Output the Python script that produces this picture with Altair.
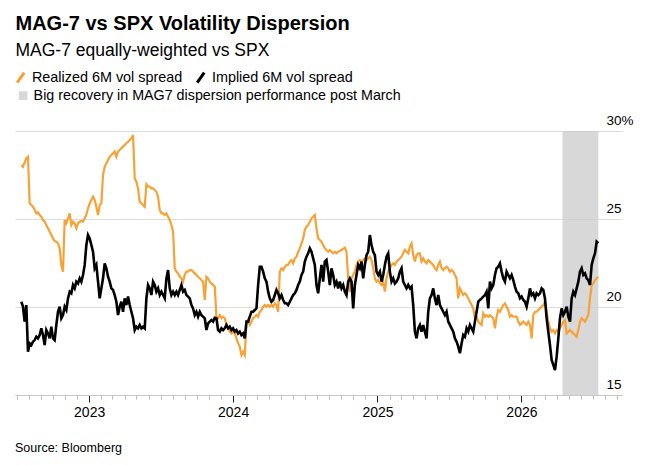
import altair as alt
import pandas as pd

FONT = "Liberation Sans"
TITLE = "MAG-7 vs SPX Volatility Dispersion"
SUBTITLE = "MAG-7 equally-weighted vs SPX"
SOURCE = "Source: Bloomberg"
SERIES = ["Realized 6M vol spread", "Implied 6M vol spread"]
SHADE_LABEL = "Big recovery in MAG7 dispersion performance post March"
SHADE_START = "2026-04-15"
SHADE_END = "2026-07-15"
START = "2022-07-13"
END = "2026-07-15"
Y_TICKS = [15, 20, 25, 30]

ORANGE = "#f8a134"
BLACK = "#000000"
SHADE = "#cbcbcb"

REALIZED = [
    28.07, 27.97, 28.22, 28.45, 28.54, 25.89, 25.80, 25.70, 25.51, 25.32,
    25.38, 25.23, 25.13, 24.94, 24.85, 24.66, 24.47, 24.28, 24.09, 23.90,
    23.75, 23.71, 23.62, 23.33, 22.39, 22.01, 24.94, 24.75, 25.04, 25.32,
    24.66, 24.85, 24.75, 24.47, 24.75, 24.85, 24.89, 24.85, 25.04, 25.23,
    25.61, 25.89, 26.08, 26.27, 26.08, 25.70, 25.23, 25.80, 25.89, 27.50,
    27.97, 28.16, 28.35, 28.54, 28.64, 28.73,
    28.83, 28.54, 28.83, 28.92, 29.02, 29.11, 29.20, 29.30, 29.39, 29.49,
    29.58, 29.77, 27.31, 27.12, 26.74, 25.98, 25.89, 25.80, 25.70, 26.97,
    26.84, 26.84, 26.74, 26.74, 26.65, 26.55, 26.27, 25.51, 25.32, 25.32,
    25.23, 25.32, 25.13, 24.94, 24.66, 24.28, 22.20, 22.01, 21.91, 21.72,
    21.63, 21.44, 21.82, 22.01, 22.01, 22.10, 22.10, 22.01, 21.91, 21.82,
    21.72, 21.63, 21.53, 21.44, 20.40, 21.72, 21.63, 21.44, 21.34, 21.25,
    21.16, 19.45, 19.36, 19.54, 19.36, 19.45, 19.36, 18.98, 18.79, 18.60,
    18.50, 18.60, 18.50, 18.22, 17.93, 17.75, 17.27, 17.46, 17.27, 19.07,
    19.26, 18.98, 19.17, 19.36, 19.45, 19.54, 19.45, 19.73, 19.83, 20.02,
    20.11, 20.02, 20.11, 20.02, 20.11, 20.02, 20.21, 20.11, 19.73, 22.01,
    22.20, 22.10, 22.29, 22.39, 22.39, 22.58, 22.67, 22.48, 22.76, 22.86,
    23.14, 23.33, 23.62, 23.90, 24.38, 24.56, 24.66, 24.85, 25.04, 25.13,
    25.23, 24.47, 23.90, 23.81, 23.71, 23.52, 23.33, 23.24, 23.14, 23.24,
    23.14, 23.05, 23.14, 23.05, 23.14, 23.18, 23.24, 23.30, 23.37, 23.14,
    21.63, 20.87, 21.63, 21.82, 22.01, 22.39, 22.58, 22.67, 22.58, 22.67,
    22.76, 22.67, 22.76, 22.86, 22.67, 22.20, 21.63, 21.44, 21.53, 21.34,
    21.25, 21.44, 20.87, 21.63, 22.01, 22.20, 22.39, 22.48, 22.39, 22.58,
    22.67, 22.76, 22.86, 23.05, 23.24, 23.14, 23.05, 23.43, 23.62, 22.95,
    22.58, 22.95, 23.05, 23.05, 22.58, 22.76, 22.58, 22.48, 22.67, 22.58,
    22.48, 22.39, 22.20, 22.10, 22.39, 22.58, 22.20, 22.10, 22.20, 22.29,
    22.20, 22.01, 22.10, 22.01, 21.82, 21.63, 20.49, 21.06, 20.87, 20.68,
    20.78, 20.68, 20.49, 20.30, 20.11, 19.92, 19.36, 19.45, 19.17, 19.07,
    18.98, 19.64, 19.45, 19.54, 19.45, 19.54, 19.45, 19.36, 18.79, 19.45,
    19.83, 19.73, 19.92, 20.11, 20.21, 20.02, 19.83, 19.45, 19.54, 19.45,
    19.45, 19.45, 19.17, 18.98, 19.07, 19.17, 19.07, 18.98, 19.17, 18.98,
    18.22, 19.54, 19.73, 19.73, 19.83, 19.92, 20.02, 20.11, 20.30, 19.73,
    19.17, 18.79, 18.60, 18.69, 18.50, 18.69, 18.60, 18.79, 18.98, 19.17,
    19.26, 18.50, 18.60, 18.69, 18.60, 18.50, 18.41, 18.31, 18.69, 19.17,
    19.36, 19.26, 19.17, 19.36, 19.54, 20.49, 21.25, 21.34, 21.53, 21.63,
    21.72,
]

IMPLIED = [
    20.30, 20.02, 19.17, 20.11, 17.46, 17.93, 17.84, 18.03, 18.12, 18.31,
    18.22, 18.41, 18.79, 18.41, 17.84, 18.69, 18.50, 18.22, 18.88, 18.22,
    18.12, 18.98, 19.73, 20.02, 19.36, 19.54, 20.02, 19.83, 20.49, 20.87,
    20.78, 21.25, 21.06, 21.44, 21.34, 21.63, 21.44, 21.82, 22.39, 23.52,
    24.09, 23.90, 23.52, 23.14, 22.20, 22.39, 21.44, 20.49, 21.06, 21.63,
    22.48, 22.20, 21.72, 21.44, 21.06, 20.97,
    20.68, 20.30, 19.54, 20.02, 20.30, 19.73, 20.49, 20.11, 20.59, 20.11,
    19.73, 19.36, 18.69, 18.88, 18.79, 18.98, 18.79, 18.88, 18.79, 20.49,
    21.25, 21.06, 20.68, 21.44, 21.25, 20.87, 21.06, 20.68, 20.87, 20.68,
    20.49, 21.63, 22.10, 21.06, 20.68, 20.87, 20.68, 20.87, 20.68, 20.97,
    21.25, 20.87, 20.97, 20.68, 20.59, 20.49, 20.11, 19.92, 19.54, 19.73,
    19.45, 19.73, 19.54, 19.45, 19.36, 18.69, 19.07, 19.17, 19.26, 19.17,
    19.39, 19.36, 18.69, 18.60, 18.79, 18.69, 18.79, 18.98, 18.79, 18.88,
    18.69, 18.79, 18.60, 18.69, 18.50, 18.60, 18.41, 18.50, 18.22, 19.17,
    19.17, 19.45, 19.73, 19.73, 19.83, 19.92, 21.25, 22.29, 22.29, 22.01,
    21.63, 21.44, 20.87, 20.49, 20.30, 20.40, 20.68, 20.97, 20.78, 20.49,
    20.68, 20.40, 20.21, 20.21, 20.11, 20.30, 20.49, 20.68, 20.78, 20.97,
    21.25, 21.44, 21.82, 22.01, 22.58, 22.86, 23.05, 23.33, 23.14, 22.76,
    22.39, 21.25, 20.78, 21.63, 22.39, 21.44, 22.58, 22.67, 22.01, 21.25,
    22.20, 21.82, 21.25, 21.44, 21.06, 21.44, 21.06, 21.25, 20.87, 20.68,
    21.44, 21.63, 21.44, 19.92, 21.25, 21.82, 22.39, 22.20, 22.58, 21.63,
    22.39, 22.95, 23.14, 24.09, 23.52, 23.14, 22.95, 22.01, 21.82, 22.01,
    21.44, 21.82, 22.39, 22.86, 23.05, 22.01, 21.44, 21.63, 21.34, 21.44,
    21.63, 22.01, 22.20, 21.44, 21.25, 21.06, 21.25, 21.06, 21.16, 20.11,
    18.60, 18.22, 18.79, 18.98, 18.60, 18.98, 18.60, 18.22, 19.73, 20.49,
    20.68, 21.06, 20.49, 20.11, 20.68, 20.11, 19.92, 19.73, 19.54, 19.73,
    19.17, 18.98, 18.79, 18.60, 18.22, 18.03, 17.75, 17.37, 17.93, 18.41,
    18.31, 18.79, 18.60, 18.98, 18.79, 18.60, 19.17, 19.73, 20.30, 20.40,
    20.49, 20.59, 20.68, 20.87, 19.92, 21.44, 21.06, 21.25, 21.82, 22.20,
    22.29, 22.48, 22.01, 21.63, 21.44, 22.01, 21.82, 21.63, 21.82, 21.53,
    21.16, 20.87, 20.78, 20.49, 20.59, 20.40, 20.30, 20.02, 20.49, 21.06,
    20.68, 20.78, 20.49, 20.78, 20.68, 20.78, 21.06, 20.97, 20.49, 19.36,
    18.60, 17.84, 16.99, 16.71, 16.42, 17.18, 18.22, 19.36, 19.92, 19.54,
    19.73, 20.02, 19.45, 19.17, 20.49, 20.87, 20.68, 21.06, 21.44, 22.01,
    22.20, 21.82, 21.91, 21.63, 21.53, 21.25, 22.39, 22.76, 23.05, 23.71,
    23.62,
]

assert len(REALIZED) == len(IMPLIED)
n = len(REALIZED)
dates = pd.date_range(START, END, periods=n)

df = pd.DataFrame({
    "date": list(dates) * 2,
    "series": [SERIES[0]] * n + [SERIES[1]] * n,
    "value": REALIZED + IMPLIED,
})
shade_df = pd.DataFrame({"start": [pd.Timestamp(SHADE_START)], "end": [pd.Timestamp(SHADE_END)],
                         "label": [SHADE_LABEL]})

xscale = alt.Scale(domain=[alt.DateTime(year=2022, month=6, date=27),
                           alt.DateTime(year=2026, month=9, date=13)])
yscale = alt.Scale(domain=[15, 30], nice=False, zero=False)

is_jan = "month(datum.value) == 0"
xaxis = alt.Axis(
    title=None, grid=False,
    tickCount={"interval": "month", "step": 1},
    labelExpr="month(datum.value) == 0 ? timeFormat(datum.value, '%Y') : ''",
    tickSize={"condition": {"test": is_jan, "value": 7}, "value": 4},
    tickColor={"condition": {"test": is_jan, "value": "#222222"}, "value": "#bdbdbd"},
    tickWidth=1, domainColor="#c8c8c8", domainWidth=1,
    labelFont=FONT, labelFontSize=14, labelColor="#000000", labelPadding=3,
    labelOverlap=False, labelFlush=False, labelAngle=0,
)
yaxis = alt.Axis(
    title=None, orient="right", values=Y_TICKS, grid=True, gridColor="#dddddd", gridWidth=1,
    domain=False, ticks=False, labelAlign="left", labelBaseline="alphabetic",
    labelPadding=-16, labelOffset=-7,
    labelFont=FONT, labelFontSize=13.5, labelColor="#000000",
    labelExpr="datum.value == 30 ? '30%' : datum.label",
)

color = alt.Color(
    "series:N",
    scale=alt.Scale(domain=SERIES, range=[ORANGE, BLACK]),
    legend=alt.Legend(
        title=None, orient="none", legendX=-1.5, legendY=-61, direction="horizontal",
        symbolType="M-0.7,1L0.7,-1", symbolSize=100, symbolStrokeWidth=3,
        labelFont=FONT, labelFontSize=14.4, labelColor="#000000", labelLimit=0,
        labelOffset=4, columnPadding=8, padding=0,
    ),
)

shade = alt.Chart(shade_df).mark_rect(opacity=0.75).encode(
    x=alt.X("start:T", scale=xscale, axis=xaxis),
    x2="end:T",
    y=alt.YDatum(30, type="quantitative", scale=yscale, axis=yaxis),
    y2=alt.Y2Datum(15),
    fill=alt.Fill(
        "label:N",
        scale=alt.Scale(domain=[SHADE_LABEL], range=[SHADE]),
        legend=alt.Legend(
            title=None, orient="none", legendX=1, legendY=-42.5,
            symbolType="square", symbolSize=75, symbolStrokeWidth=0,
            labelFont=FONT, labelFontSize=14.3, labelColor="#000000", labelLimit=0,
            labelOffset=3.3, padding=0,
        ),
    ),
)

base = alt.Chart(df)
enc = dict(
    x=alt.X("date:T", scale=xscale, axis=xaxis),
    y=alt.Y("value:Q", scale=yscale, axis=yaxis),
    color=color,
)
realized = base.transform_filter(alt.datum.series == SERIES[0]).mark_line(strokeWidth=2.2).encode(**enc)
implied = base.transform_filter(alt.datum.series == SERIES[1]).mark_line(strokeWidth=2.6).encode(**enc)


def label(text, x, y, size, weight="normal"):
    return alt.Chart(pd.DataFrame({"t": [text]})).mark_text(
        align="left", baseline="alphabetic", font=FONT, fontSize=size,
        fontWeight=weight, color="#000000",
    ).encode(text="t:N", x=alt.value(x), y=alt.value(y))


title_t = label(TITLE, 0.5, -101, 20, "bold")
subtitle_t = label(SUBTITLE, 0.5, -75, 17.5)
source_t = label(SOURCE, 0, 321, 12.5)

chart = alt.layer(shade, realized, implied, title_t, subtitle_t, source_t).properties(
    width=607, height=264,
    padding={"left": 7, "top": 123, "right": 15, "bottom": 60},
    autosize=alt.AutoSizeParams(type="none"),
).configure_view(stroke=None)

chart.save("out.html", embed_options={"renderer": "svg", "actions": False})
